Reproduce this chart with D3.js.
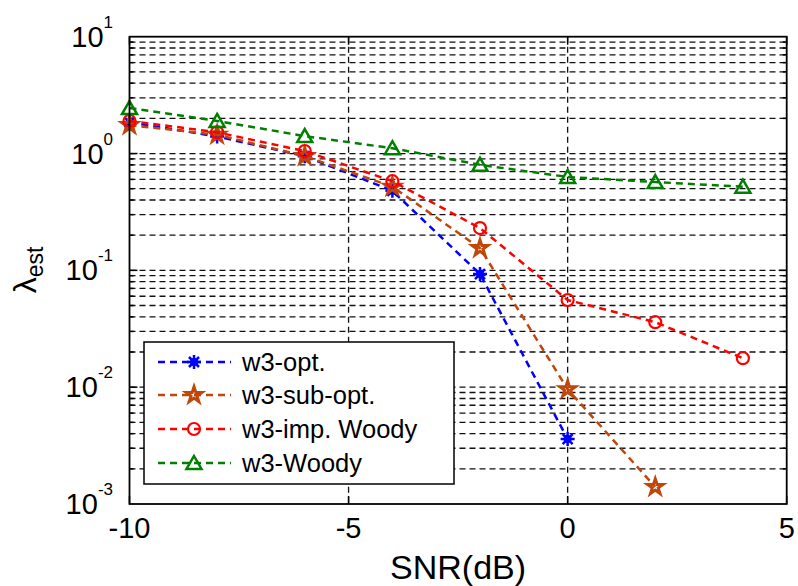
<!DOCTYPE html>
<html>
<head>
<meta charset="utf-8">
<script src="https://cdn.jsdelivr.net/npm/d3@7"></script>
<style>
  body { margin: 0; background: #fff; }
  svg { font-family: "Liberation Sans", Arial, sans-serif; }
</style>
</head>
<body>
<svg id="chart" width="798" height="586"></svg>
<script>
// ---- Dados
const snr = [-10, -8, -6, -4, -2, 0, 2, 4];
const optVals = [1.85, 1.4, 0.95, 0.48, 0.093, 0.0036];
const subOptVals = [1.75, 1.45, 0.95, 0.52, 0.155, 0.0096, 0.0014];
const impWoodyVals = [1.9, 1.52, 1.05, 0.58, 0.23, 0.0557, 0.036, 0.0177];
const woodyVals = [2.45, 1.9, 1.41, 1.11, 0.80, 0.63, 0.57, 0.52];

const seriesNames = ['w3-opt.', 'w3-sub-opt.', 'w3-imp. Woody', 'w3-Woody'];
const xTicks = [-10, -5, 0, 5];
const yExponents = [1, 0, -1, -2, -3];

const series = [
    { name: seriesNames[0], values: optVals, color: '#0000ff', marker: 'asterisk' },
    { name: seriesNames[1], values: subOptVals, color: '#c0460a', marker: 'star' },
    { name: seriesNames[2], values: impWoodyVals, color: '#ff0000', marker: 'circle' },
    { name: seriesNames[3], values: woodyVals, color: '#008000', marker: 'triangle' }
];

const svg = d3.select('#chart');
const box = { left: 129.5, right: 786.7, top: 36.7, bottom: 504 };

// ---- Escalas
const mapX = d3.scaleLinear().domain([-10, 5]).range([box.left, box.right]);
const mapY = d3.scaleLog().domain([1e-3, 10]).range([box.bottom, box.top]);

// ---- Grade
const gridVals = [];
for (let k = -3; k <= 0; k++) {
    for (let m = 1; m <= 9; m++) {
        const v = m * Math.pow(10, k);
        if (v > 1e-3) gridVals.push(v);
    }
}
const grid = svg.append('g').attr('class', 'grid');
grid.selectAll('line.h')
    .data(gridVals)
    .join('line')
    .attr('class', 'h')
    .attr('x1', box.left).attr('x2', box.right)
    .attr('y1', d => mapY(d)).attr('y2', d => mapY(d))
    .attr('stroke', '#111').attr('stroke-width', 1.3).attr('stroke-dasharray', '6,4');
grid.selectAll('line.v')
    .data(xTicks.slice(1, -1))
    .join('line')
    .attr('class', 'v')
    .attr('x1', d => mapX(d)).attr('x2', d => mapX(d))
    .attr('y1', box.top).attr('y2', box.bottom)
    .attr('stroke', '#111').attr('stroke-width', 1.3).attr('stroke-dasharray', '6,4');

// ---- Ticks (para dentro)
const ticks = svg.append('g');
xTicks.forEach(t => {
    ticks.append('line').attr('x1', mapX(t)).attr('x2', mapX(t))
        .attr('y1', box.bottom).attr('y2', box.bottom - 8).attr('stroke', '#000').attr('stroke-width', 1.5);
    ticks.append('line').attr('x1', mapX(t)).attr('x2', mapX(t))
        .attr('y1', box.top).attr('y2', box.top + 8).attr('stroke', '#000').attr('stroke-width', 1.5);
});
gridVals.forEach(v => {
    const len = Math.abs(Math.log10(v) - Math.round(Math.log10(v))) < 1e-9 ? 8 : 4;
    ticks.append('line').attr('x1', box.left).attr('x2', box.left + len)
        .attr('y1', mapY(v)).attr('y2', mapY(v)).attr('stroke', '#000').attr('stroke-width', 1.5);
    ticks.append('line').attr('x1', box.right).attr('x2', box.right - len)
        .attr('y1', mapY(v)).attr('y2', mapY(v)).attr('stroke', '#000').attr('stroke-width', 1.5);
});

// ---- Rótulos dos eixos
svg.append('g').selectAll('text')
    .data(xTicks)
    .join('text')
    .attr('x', d => mapX(d))
    .attr('y', 538)
    .attr('text-anchor', 'middle')
    .attr('font-size', 29)
    .text(d => d);

const yLab = svg.append('g').selectAll('text')
    .data(yExponents)
    .join('text')
    .attr('x', 113)
    .attr('y', d => mapY(Math.pow(10, d)) + 10)
    .attr('text-anchor', 'end')
    .attr('font-size', 29);
yLab.append('tspan').text('10');
yLab.append('tspan').attr('dy', -19).attr('font-size', 17).text(d => d);

svg.append('text')
    .attr('x', (box.left + box.right) / 2)
    .attr('y', 579)
    .attr('text-anchor', 'middle')
    .attr('font-size', 34)
    .text('SNR(dB)');

const yTitle = svg.append('text')
    .attr('transform', 'translate(36, 270) rotate(-90)')
    .attr('text-anchor', 'middle')
    .attr('font-size', 32);
yTitle.append('tspan').text('λ');
yTitle.append('tspan').attr('font-size', 23).attr('dy', 7).text('est');

// ---- Marcadores
function drawMarker(g, type, color) {
    if (type === 'circle') {
        g.append('circle').attr('r', 6).attr('fill', 'none')
            .attr('stroke', color).attr('stroke-width', 2.2);
    } else if (type === 'triangle') {
        g.append('path').attr('d', 'M0,-7 L7.5,6 L-7.5,6 Z').attr('fill', 'none')
            .attr('stroke', color).attr('stroke-width', 2.5);
    } else if (type === 'star') {
        g.append('path').attr('d', d3.symbol(d3.symbolStar, 75)()).attr('fill', 'none')
            .attr('stroke', color).attr('stroke-width', 3);
    } else {
        g.append('path').attr('d', 'M-7,0 H7 M0,-7 V7 M-5,-5 L5,5 M-5,5 L5,-5')
            .attr('fill', 'none').attr('stroke', color).attr('stroke-width', 2.5);
        g.append('circle').attr('r', 4).attr('fill', color);
    }
}

// ---- Séries
const line = d3.line()
    .x((d, i) => mapX(snr[i]))
    .y(d => mapY(d));

const plot = svg.append('g');
series.forEach(s => {
    plot.append('path')
        .datum(s.values)
        .attr('d', line)
        .attr('fill', 'none')
        .attr('stroke', s.color)
        .attr('stroke-width', 2.5)
        .attr('stroke-dasharray', '7,5');
    s.values.forEach((v, i) => {
        const g = plot.append('g').attr('transform', `translate(${mapX(snr[i])},${mapY(v)})`);
        drawMarker(g, s.marker, s.color);
    });
});

// ---- Caixa
svg.append('rect')
    .attr('x', box.left).attr('y', box.top)
    .attr('width', box.right - box.left).attr('height', box.bottom - box.top)
    .attr('fill', 'none').attr('stroke', '#000').attr('stroke-width', 1.8);

// ---- Legenda
const legend = svg.append('g');
legend.append('rect')
    .attr('x', 144).attr('y', 342).attr('width', 310).attr('height', 142)
    .attr('fill', '#fff').attr('stroke', '#000').attr('stroke-width', 1.5);
const legendY = [362, 395, 429, 463];
series.forEach((s, i) => {
    legend.append('line')
        .attr('x1', 158).attr('x2', 231)
        .attr('y1', legendY[i]).attr('y2', legendY[i])
        .attr('stroke', s.color).attr('stroke-width', 2.5).attr('stroke-dasharray', '7,5');
    const g = legend.append('g').attr('transform', `translate(194,${legendY[i]})`);
    drawMarker(g, s.marker, s.color);
    legend.append('text')
        .attr('x', 242).attr('y', legendY[i] + 9)
        .attr('font-size', 25.5)
        .text(s.name);
});
</script>
</body>
</html>
